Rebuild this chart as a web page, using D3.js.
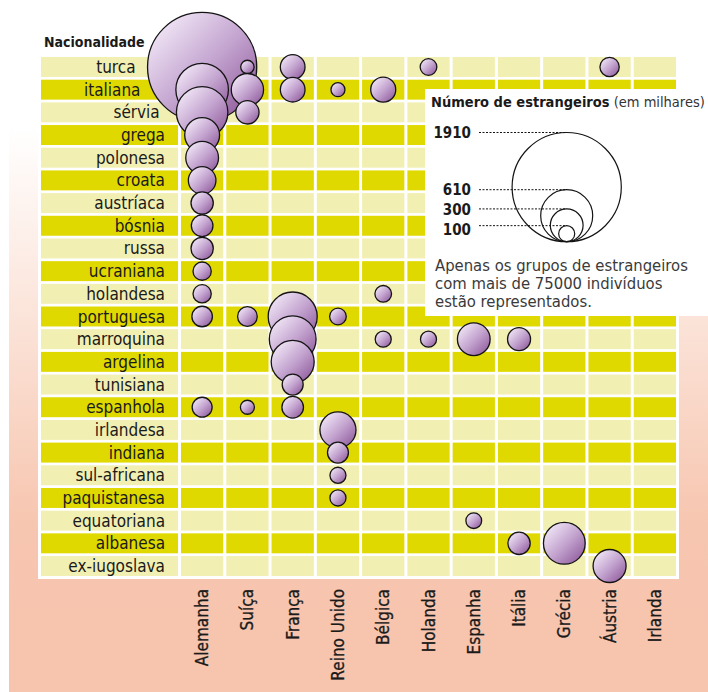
<!DOCTYPE html>
<html>
<head>
<meta charset="utf-8">
<script src="https://cdn.jsdelivr.net/npm/d3@7"></script>
<style>
  body { margin: 0; background: #fff; }
  svg text { font-family: "DejaVu Sans Condensed", "DejaVu Sans", sans-serif; font-stretch: condensed; fill: #1a1a1a; }
</style>
</head>
<body>
<div id="chart"></div>
<script>

// rows (nationality of the foreigners)
var nationalities = ["turca", "italiana", "sérvia", "grega", "polonesa", "croata", "austríaca",
  "bósnia", "russa", "ucraniana", "holandesa", "portuguesa", "marroquina", "argelina",
  "tunisiana", "espanhola", "irlandesa", "indiana", "sul-africana", "paquistanesa",
  "equatoriana", "albanesa", "ex-iugoslava"];

// columns (host country)
var countries = ["Alemanha", "Suíça", "França", "Reino Unido", "Bélgica", "Holanda",
  "Espanha", "Itália", "Grécia", "Áustria", "Irlanda"];

// foreigners per host country, in thousands
var alemanha = [["turca", 1910], ["italiana", 620], ["sérvia", 600], ["grega", 330], ["polonesa", 300],
  ["croata", 230], ["austríaca", 166], ["bósnia", 158], ["russa", 166], ["ucraniana", 122],
  ["holandesa", 122], ["portuguesa", 146], ["espanhola", 140]];
var suica = [["turca", 76], ["italiana", 293], ["sérvia", 177], ["portuguesa", 137], ["espanhola", 81]];
var franca = [["turca", 194], ["italiana", 194], ["portuguesa", 557], ["marroquina", 518],
  ["argelina", 455], ["tunisiana", 151], ["espanhola", 158]];
var reinoUnido = [["italiana", 81], ["portuguesa", 106], ["irlandesa", 347], ["indiana", 151],
  ["sul-africana", 100], ["paquistanesa", 100]];
var belgica = [["italiana", 198], ["holandesa", 106], ["marroquina", 100]];
var holanda = [["turca", 106], ["marroquina", 100]];
var espanha = [["marroquina", 299], ["equatoriana", 97]];
var italia = [["marroquina", 174], ["albanesa", 166]];
var grecia = [["albanesa", 435]];
var austria = [["turca", 133], ["ex-iugoslava", 303]];
var irlanda = [];

var byCountry = [alemanha, suica, franca, reinoUnido, belgica, holanda, espanha, italia, grecia, austria, irlanda];

// legend circles
var legendValues = [1910, 610, 300, 100];

var width = 708, height = 692;

var svg = d3.select("#chart").append("svg")
    .attr("width", width)
    .attr("height", height);

var defs = svg.append("defs");

// salmon backdrop fading to white at the top
var bg = defs.append("linearGradient")
    .attr("id", "bgGrad")
    .attr("x1", 0).attr("y1", 0).attr("x2", 0).attr("y2", 1);
bg.append("stop").attr("offset", "0%").attr("stop-color", "#ffffff");
bg.append("stop").attr("offset", "70%").attr("stop-color", "#f7c6b0");
bg.append("stop").attr("offset", "100%").attr("stop-color", "#f7c4ad");

// bubble shading
var bub = defs.append("linearGradient")
    .attr("id", "bubGrad")
    .attr("x1", 0.15).attr("y1", 0.15).attr("x2", 0.9).attr("y2", 0.9);
bub.append("stop").attr("offset", "0%").attr("stop-color", "#ecdff2");
bub.append("stop").attr("offset", "50%").attr("stop-color", "#c3a3cf");
bub.append("stop").attr("offset", "100%").attr("stop-color", "#93609f");

svg.append("rect")
    .attr("x", 9).attr("y", 127)
    .attr("width", width - 9).attr("height", height - 127)
    .attr("fill", "url(#bgGrad)");

// white panel behind the grid
svg.append("rect")
    .attr("x", 38).attr("y", 40)
    .attr("width", 641).attr("height", 539)
    .attr("fill", "#fff");

/// scales
var x = d3.scaleBand()
    .domain(countries)
    .range([181, 676])
    .paddingInner(0.066);

var y = d3.scaleBand()
    .domain(nationalities)
    .range([57, 576])
    .paddingInner(0.12);

var r = d3.scalePow()
    .exponent(0.65)
    .domain([0, 1910])
    .range([0, 54.6]);

var light = "#f2efb3", dark = "#e0d900";
function rowColor(d, i) { return i % 2 === 0 ? light : dark; }

/// bubble data, flattened
var points = [];
byCountry.forEach(function(list, ci) {
  list.forEach(function(p) {
    points.push({ country: countries[ci], nat: p[0], value: p[1] });
  });
});
points.forEach(function(p) {
  p.cx = x(p.country) + x.bandwidth() / 2;
  p.cy = y(p.nat) + y.bandwidth() / 2;
  p.r = r(p.value);
});
// later rows are drawn on top
points.sort(function(a, b) {
  return (nationalities.indexOf(a.nat) - nationalities.indexOf(b.nat)) ||
         (countries.indexOf(a.country) - countries.indexOf(b.country));
});

// labels slide left when a bubble reaches into the label column
function labelRight(nat) {
  var yc = y(nat) + y.bandwidth() / 2, right = 165;
  points.forEach(function(p) {
    var dy = Math.abs(p.cy - yc);
    if (dy < p.r) {
      var left = p.cx - Math.sqrt(p.r * p.r - dy * dy);
      right = Math.min(right, left - 12);
    }
  });
  return right;
}

/// grid
var rows = svg.append("g").attr("class", "rows")
  .selectAll("g")
  .data(nationalities)
  .enter().append("g");

// label cell
rows.append("rect")
    .attr("x", 41)
    .attr("y", function(d) { return y(d); })
    .attr("width", 137)
    .attr("height", y.bandwidth())
    .attr("fill", rowColor);

rows.append("text")
    .attr("x", function(d) { return labelRight(d); })
    .attr("y", function(d) { return y(d) + y.bandwidth() / 2 + 6; })
    .attr("text-anchor", "end")
    .style("font-size", "17px")
    .text(function(d) { return d; });

rows.each(function(nat, i) {
  d3.select(this).selectAll("rect.cell")
    .data(countries)
    .enter().append("rect")
      .attr("class", "cell")
      .attr("x", function(c) { return x(c); })
      .attr("y", y(nat))
      .attr("width", x.bandwidth())
      .attr("height", y.bandwidth())
      .attr("fill", rowColor(nat, i));
});

// header
svg.append("text")
    .attr("x", 44)
    .attr("y", 47)
    .style("font-size", "14px")
    .style("font-weight", "bold")
    .text("Nacionalidade");

// country labels, rotated
svg.append("g").attr("class", "xlabels")
  .selectAll("text")
  .data(countries)
  .enter().append("text")
    .attr("transform", function(d) {
      return "translate(" + (x(d) + x.bandwidth() / 2 + 6) + ",589) rotate(-90)";
    })
    .attr("text-anchor", "end")
    .style("font-size", "17px")
    .style("stroke", "#1a1a1a")
    .style("stroke-width", 0.3)
    .text(function(d) { return d; });

/// bubbles
svg.append("g").attr("class", "bubbles")
  .selectAll("circle")
  .data(points)
  .enter().append("circle")
    .attr("cx", function(d) { return d.cx; })
    .attr("cy", function(d) { return d.cy; })
    .attr("r", function(d) { return d.r; })
    .attr("fill", "url(#bubGrad)")
    .attr("stroke", "#141414")
    .attr("stroke-width", 1.3);

/// legend
var lg = svg.append("g").attr("class", "legend");

lg.append("rect")
    .attr("x", 425).attr("y", 89)
    .attr("width", width - 425).attr("height", 227)
    .attr("fill", "#fff");

var title = lg.append("text")
    .attr("x", 431)
    .attr("y", 107)
    .style("font-size", "14.5px");
title.append("tspan").style("font-weight", "bold").text("Número de estrangeiros");
title.append("tspan").style("fill", "#333").text(" (em milhares)");

var lcx = 566.7, lbottom = 241.7;

// label positions: at the circle top, kept at least 20px apart
var labelY = [], prevY = -Infinity;
legendValues.forEach(function(v) {
  var ty = Math.max(lbottom - 2 * r(v), prevY + 20);
  labelY.push(ty);
  prevY = ty;
});

var items = lg.selectAll("g.item")
  .data(legendValues)
  .enter().append("g")
    .attr("class", "item");

items.append("circle")
    .attr("cx", lcx)
    .attr("cy", function(d) { return lbottom - r(d); })
    .attr("r", function(d) { return r(d); })
    .attr("fill", "none")
    .attr("stroke", "#141414")
    .attr("stroke-width", 1.2);

items.append("line")
    .attr("x1", 479)
    .attr("x2", lcx)
    .attr("y1", function(d) { return lbottom - 2 * r(d); })
    .attr("y2", function(d) { return lbottom - 2 * r(d); })
    .attr("stroke", "#141414")
    .attr("stroke-width", 1)
    .attr("stroke-dasharray", "2,1.5");

items.append("text")
    .attr("x", 471)
    .attr("y", function(d, i) { return labelY[i] + 5.5; })
    .attr("text-anchor", "end")
    .style("font-size", "15px")
    .style("font-weight", "bold")
    .text(function(d) { return d; });

var note = ["Apenas os grupos de estrangeiros", "com mais de 75000 indivíduos", "estão representados."];
lg.selectAll("text.note")
  .data(note)
  .enter().append("text")
    .attr("class", "note")
    .attr("x", 435)
    .attr("y", function(d, i) { return 271 + 18 * i; })
    .style("font-size", "16.5px")
    .style("fill", "#3a3a3a")
    .text(function(d) { return d; });

</script>
</body>
</html>
